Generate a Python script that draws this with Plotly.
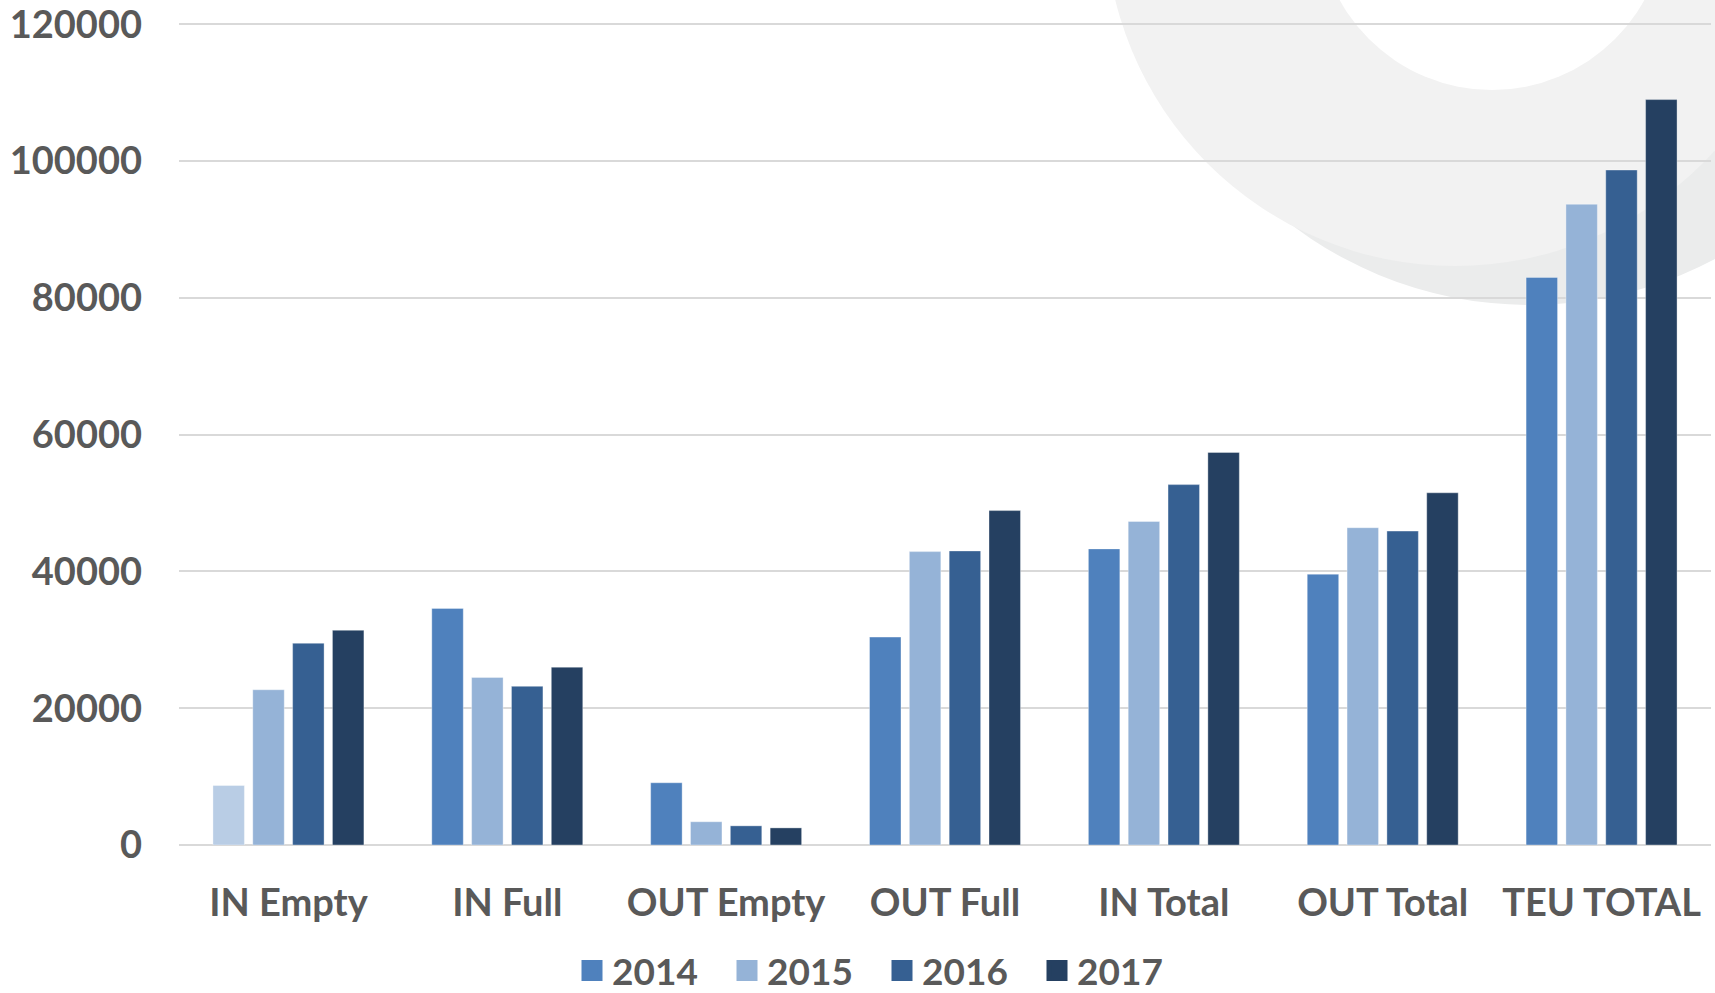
import plotly.graph_objects as go

categories = ["IN Empty", "IN Full", "OUT Empty", "OUT Full", "IN Total", "OUT Total", "TEU TOTAL"]
years = ["2014", "2015", "2016", "2017"]
v2014 = [8700, 34600, 9100, 30400, 43300, 39600, 83000]
v2015 = [22700, 24500, 3400, 42900, 47300, 46400, 93700]
v2016 = [29500, 23200, 2800, 43000, 52700, 45900, 98700]
v2017 = [31400, 26000, 2500, 48900, 57400, 51500, 109000]
series_values = [v2014, v2015, v2016, v2017]
y_ticks = [0, 20000, 40000, 60000, 80000, 100000, 120000]
y_max = 120200

colors = ["#4F81BD", "#95B3D7", "#366092", "#254061"]
highlight_color = "#B9CDE5"  # IN Empty 2014 drawn lighter in the original

W_FIG, H_FIG = 1715, 993
ML, MR, MT, MB = 179, 4, 23, 148
PW = W_FIG - ML - MR
PH = H_FIG - MT - MB
TEXT = "#595959"
FONT = "Lato"


def px2x(px):
    return (px - ML) / PW


def py2y(py):
    return (H_FIG - MB - py) / PH


def circle(cx, cy, r, color):
    return dict(type="circle", xref="paper", yref="paper", layer="below",
                x0=px2x(cx - r), x1=px2x(cx + r),
                y0=py2y(cy + r), y1=py2y(cy - r),
                fillcolor=color, line=dict(width=0))


fig = go.Figure()
for i, (yr, vals) in enumerate(zip(years, series_values)):
    cols = [colors[i]] * len(categories)
    if i == 0:
        cols[0] = highlight_color
    fig.add_trace(go.Bar(
        x=categories, y=vals, name=yr, showlegend=False, legendgroup=yr,
        marker=dict(color=cols, line=dict(width=1, color="rgba(255,255,255,0.35)")),
    ))

for i, yr in enumerate(years):
    fig.add_trace(go.Scatter(
        x=[None], y=[None], mode="markers", name=yr, legendgroup=yr,
        marker=dict(symbol="square", size=24, color=colors[i],
                    line=dict(width=5, color=colors[i])),
        hoverinfo="skip",
    ))

shapes = [
    circle(1530, -90, 395, "#EBECEC"),
    circle(1455, -84, 350, "#F2F2F2"),
    circle(1492, -84, 174, "#FFFFFF"),
]

fig.update_layout(
    width=W_FIG, height=H_FIG,
    margin=dict(l=ML, r=MR, t=MT, b=MB, pad=0, autoexpand=False),
    paper_bgcolor="white", plot_bgcolor="white",
    barmode="group", bargap=0.272, bargroupgap=0.21,
    font=dict(family=FONT, color=TEXT, size=38, weight=700),
    shapes=shapes,
    showlegend=True,
    legend=dict(
        orientation="h", xref="container", yref="container",
        x=882 / W_FIG, xanchor="center", y=(H_FIG - 971) / H_FIG, yanchor="middle",
        font=dict(family=FONT, size=37, color=TEXT, weight=700),
        bgcolor="rgba(0,0,0,0)", entrywidth=110, entrywidthmode="pixels",
        itemclick=False, itemdoubleclick=False,
    ),
)
fig.update_xaxes(
    type="category", categoryorder="array", categoryarray=categories,
    showgrid=False, showline=False, ticks="", zeroline=False,
    tickfont=dict(family=FONT, size=38, color=TEXT, weight=700),
    ticklabelstandoff=32,
)
fig.update_yaxes(
    range=[0, y_max], tickvals=y_ticks, tickformat="d",
    showgrid=True, gridcolor="#D9D9D9", gridwidth=1.5,
    zeroline=True, zerolinecolor="#D9D9D9", zerolinewidth=1.5,
    showline=False, ticks="",
    tickfont=dict(family=FONT, size=38, color=TEXT, weight=700),
    ticklabelstandoff=36, ticklabeloverflow="allow",
)

fig.write_html("out.html", config={"displayModeBar": False},
               post_script="document.body.style.margin='0px';")
